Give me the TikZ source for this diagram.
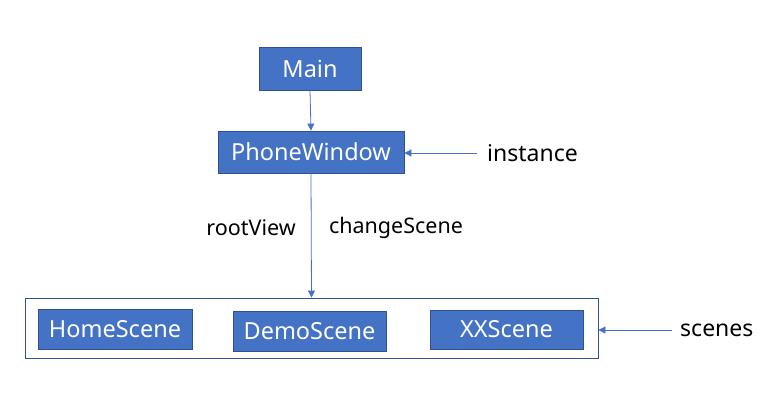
\documentclass[tikz,border=0pt]{standalone}
\usepackage{fontspec}
\setmainfont{Noto Sans}
\usetikzlibrary{arrows.meta}
\definecolor{boxfill}{HTML}{4472C4}
\definecolor{boxline}{HTML}{2F528F}
\definecolor{arrowc}{HTML}{4472C4}
\tikzset{
  blk/.style={draw=boxline, fill=boxfill, line width=0.8pt, text=white, font=\fontsize{23.5}{28}\selectfont, inner sep=0pt},
  lbl/.style={text=black, font=\fontsize{23}{27}\selectfont, inner sep=0pt},
  smlbl/.style={text=black, font=\fontsize{21.5}{26}\selectfont, inner sep=0pt},
  conn/.style={draw=arrowc, line width=0.8pt, -{Triangle[length=7pt,width=7pt]}},
}
\begin{document}
\begin{tikzpicture}[x=1pt,y=-1pt]
\useasboundingbox (0,0) rectangle (772,400);
\node[blk, minimum width=102pt, minimum height=43pt] (main) at (310,68.5) {Main};
\node[blk, minimum width=186pt, minimum height=42pt] (pw) at (311,152) {PhoneWindow};
\node[draw=boxline, line width=0.8pt, minimum width=573pt, minimum height=60pt, inner sep=0pt] (scenes) at (311.5,328) {};
\node[blk, minimum width=154pt, minimum height=40pt] (home) at (115,329) {HomeScene};
\node[blk, minimum width=153pt, minimum height=40pt] (demo) at (309.5,331) {DemoScene};
\node[blk, minimum width=153pt, minimum height=39pt] (xx) at (506.5,329.5) {XXScene};
\node[lbl, anchor=west] (inst) at (487,153) {instance};
\node[lbl, anchor=west] (sc) at (680,330) {scenes};
\node[smlbl] (rv) at (251,228) {rootView};
\node[smlbl] (cs) at (396,228) {changeScene};
\coordinate (instS) at (477,153);
\coordinate (scS) at (672,330);
\draw[conn] (main.south) -- (pw.north);
\draw[conn] (pw.south) -- (scenes.north);
\draw[conn] (instS) -- (pw.east |- instS);
\draw[conn] (scS) -- (scenes.east |- scS);
\end{tikzpicture}
\end{document}
